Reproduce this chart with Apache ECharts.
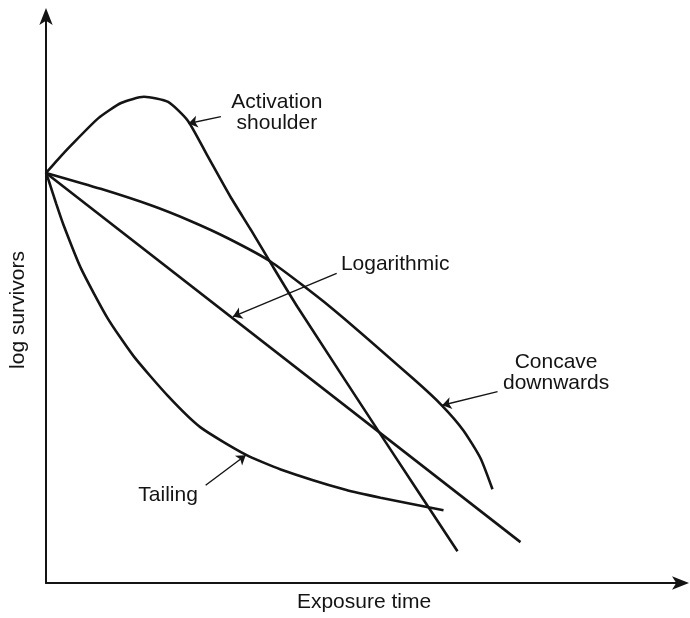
<!DOCTYPE html>
<html>
<head>
<meta charset="utf-8">
<script src="https://cdn.jsdelivr.net/npm/echarts@6/dist/echarts.min.js"></script>
<style>
  html, body { margin: 0; padding: 0; background: #fff; }
  #chart { width: 690px; height: 618px; }
</style>
</head>
<body>
<div id="chart"></div>
<script>
// schematic survivor curves in axis units (0-100 on both axes)
const activationShoulder = [
  [0, 72.2], [1.9, 74.6], [3.9, 77.0], [8.2, 81.8], [11.8, 84.5], [15.4, 85.6],
  [19.2, 84.7], [22.3, 81.4], [25.4, 75.2], [29.0, 68.0], [32.2, 62.2],
  [35.3, 56.4], [39.6, 48.5], [53.4, 24.8], [64.7, 5.6]
];
const logarithmic = [[0, 72.2], [74.6, 7.2]];
const concaveDownwards = [
  [0, 72.2], [8.6, 69.4], [16.5, 66.5], [22.8, 63.7], [28.6, 60.7], [35.3, 56.6],
  [44.7, 48.6], [57.8, 35.9], [62.3, 31.2], [65.6, 26.9], [68.3, 22.0], [70.2, 16.5]
];
const tailing = [
  [0, 72.2], [0.5, 70.6], [1.6, 66.8], [2.8, 62.9], [5.5, 55.4], [9.7, 46.6],
  [13.8, 39.9], [19.2, 32.9], [24.3, 27.4], [31.4, 22.6], [36.9, 20.0],
  [47.1, 16.4], [52.6, 15.0], [62.5, 12.8]
];

// annotation text anchors and arrows (from -> to), same axis units
const labelTexts = ['Activation\nshoulder', 'Logarithmic', 'Concave\ndownwards', 'Tailing'];
const labelAt = [[36.3, 82.8], [54.9, 56.1], [80.2, 37.1], [19.2, 15.5]];
const arrowFrom = [[27.5, 82.1], [45.7, 54.5], [71.0, 33.7], [25.1, 17.2]];
const arrowTo = [[22.4, 80.9], [29.4, 46.9], [62.3, 31.3], [31.4, 22.5]];

const ink = '#141414';
const font = 'Liberation Sans, Arial, Helvetica, sans-serif';

const myChart = echarts.init(document.getElementById('chart'));

const curve = (name, data) => ({
  name: name,
  type: 'line',
  data: data,
  smooth: 0.2,
  showSymbol: false,
  lineStyle: { color: ink, width: 2.6 },
  z: 3
});

const axisCommon = {
  type: 'value',
  min: 0,
  max: 100,
  axisTick: { show: false },
  axisLabel: { show: false },
  splitLine: { show: false },
  axisLine: {
    show: true,
    symbol: ['none', 'arrow'],
    symbolSize: [10, 17],
    symbolOffset: [0, 7],
    lineStyle: { color: ink, width: 2 }
  },
  nameLocation: 'middle',
  nameTextStyle: { color: ink, fontSize: 21, fontFamily: font }
};

const option = {
  animation: false,
  backgroundColor: '#fff',
  grid: { left: 45, right: 8, top: 15, bottom: 34 },
  xAxis: Object.assign({}, axisCommon, {
    name: 'Exposure time',
    nameGap: 9
  }),
  yAxis: Object.assign({}, axisCommon, {
    name: 'log survivors',
    nameGap: 17,
    nameTextStyle: { color: ink, fontSize: 21, fontFamily: font, padding: [0, 22, 0, 0] }
  }),
  series: [
    curve('Activation shoulder', activationShoulder),
    curve('Logarithmic', logarithmic),
    curve('Concave downwards', concaveDownwards),
    curve('Tailing', tailing),
    {
      name: 'labels',
      type: 'scatter',
      symbolSize: 0,
      silent: true,
      itemStyle: { opacity: 1 },
      data: labelTexts.map((t, i) => ({ name: t, value: labelAt[i] })),
      label: {
        show: true,
        position: 'inside',
        formatter: p => p.name,
        color: ink,
        opacity: 1,
        fontSize: 21,
        lineHeight: 21,
        fontFamily: font,
        align: 'center',
        verticalAlign: 'middle'
      },
      markLine: {
        silent: true,
        symbol: ['none', 'arrow'],
        symbolSize: 9,
        label: { show: false },
        lineStyle: { color: ink, width: 1.4, type: 'solid', opacity: 1 },
        data: arrowFrom.map((f, i) => [{ coord: f }, { coord: arrowTo[i] }])
      }
    }
  ]
};

myChart.setOption(option);
window.addEventListener('resize', () => myChart.resize());
</script>
</body>
</html>
